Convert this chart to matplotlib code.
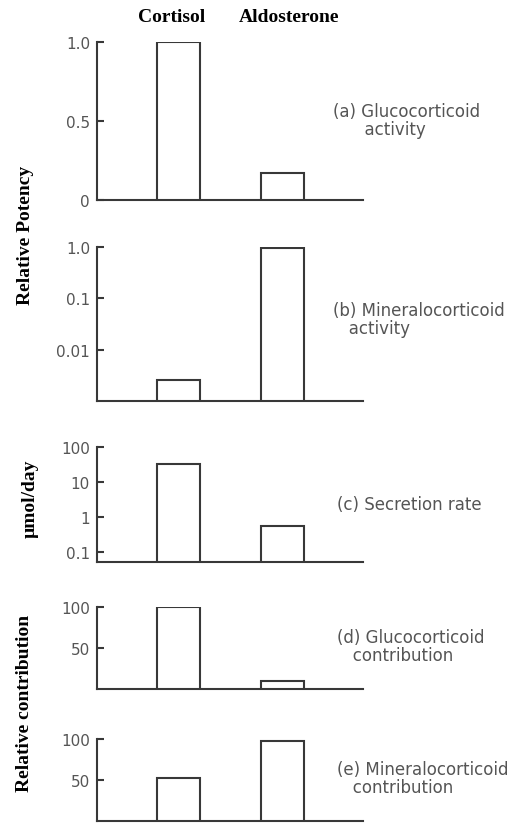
import matplotlib
matplotlib.use("Agg")
import matplotlib.pyplot as plt

W, H = 516, 829

steroids = ["Cortisol", "Aldosterone"]

# panel values (cortisol, aldosterone)
gluco_activity = [1.0, 0.17]
mineralo_activity = [0.0026, 0.95]
secretion_rate = [33, 0.55]
gluco_contribution = [100, 10]
mineralo_contribution = [52, 98]

panel_texts = [
    "(a) Glucocorticoid\n      activity",
    "(b) Mineralocorticoid\n   activity",
    "(c) Secretion rate",
    "(d) Glucocorticoid\n   contribution",
    "(e) Mineralocorticoid\n   contribution",
]

ticks_a = [0, 0.5, 1.0]
ticklabels_a = ["0", "0.5", "1.0"]
ticks_b = [0.01, 0.1, 1.0]
ticklabels_b = ["0.01", "0.1", "1.0"]
ticks_c = [0.1, 1, 10, 100]
ticklabels_c = ["0.1", "1", "10", "100"]
ticks_de = [50, 100]
ticklabels_de = ["50", "100"]

line_col = "#383838"
text_col = "#555555"

fig = plt.figure(figsize=(W / 100, H / 100), dpi=100)


def make_axes(ytop, ybot, x0=97, x1=363):
    return fig.add_axes([x0 / W, 1 - ybot / H, (x1 - x0) / W, (ybot - ytop) / H])


def style(ax, ticks, labels, ylim, log=False):
    if log:
        ax.set_yscale("log")
    ax.set_ylim(*ylim)
    ax.set_xlim(-0.78, 1.77)
    ax.set_yticks(ticks)
    ax.set_yticklabels(labels)
    ax.minorticks_off()
    ax.set_xticks([])
    for s in ["top", "right"]:
        ax.spines[s].set_visible(False)
    for s in ["left", "bottom"]:
        ax.spines[s].set_color(line_col)
        ax.spines[s].set_linewidth(1.5)
    ax.tick_params(axis="y", direction="in", length=5, width=1.5, color=line_col,
                   labelcolor=text_col, labelsize=11, pad=5)
    ax.patch.set_alpha(0)


def draw_bars(ax, values, floor=0):
    heights = [v - floor for v in values]
    ax.bar(range(len(steroids)), heights, bottom=floor, width=0.41,
           facecolor="white", edgecolor=line_col, linewidth=1.5, zorder=3)


panels = [
    (43, 201, gluco_activity, ticks_a, ticklabels_a, (0, 1.0), False, 0),
    (248, 402, mineralo_activity, ticks_b, ticklabels_b, (0.001, 1.0), True, 0.001),
    (448, 563, secretion_rate, ticks_c, ticklabels_c, (0.05, 100), True, 0.05),
    (608, 690, gluco_contribution, ticks_de, ticklabels_de, (0, 100), False, 0),
    (740, 822, mineralo_contribution, ticks_de, ticklabels_de, (0, 100), False, 0),
]

label_x = [333, 333, 337, 337, 337]
label_y = [121, 320, 505, 647, 779]

for (ytop, ybot, vals, tk, tl, lim, log, floor), txt, lx, ly in zip(panels, panel_texts,
                                                                   label_x, label_y):
    ax = make_axes(ytop, ybot)
    style(ax, tk, tl, lim, log)
    draw_bars(ax, vals, floor)
    fig.text(lx / W, 1 - ly / H, txt, ha="left", va="center", fontsize=12,
             color=text_col, linespacing=0.95)

serif = dict(family="Liberation Serif", fontweight="bold", fontsize=14)

# column headers
fig.text(172 / W, 1 - 17 / H, steroids[0], ha="center", va="center", **serif)
fig.text(289 / W, 1 - 17 / H, steroids[1], ha="center", va="center", **serif)

# y axis titles
fig.text(25 / W, 1 - 235 / H, "Relative Potency", rotation=90, ha="center",
         va="center", **serif)
fig.text(30 / W, 1 - 499 / H, "µmol/day", rotation=90, ha="center", va="center", **serif)
fig.text(25 / W, 1 - 703 / H, "Relative contribution", rotation=90, ha="center",
         va="center", **serif)

fig.savefig("out.png", dpi=100)
plt.close(fig)
